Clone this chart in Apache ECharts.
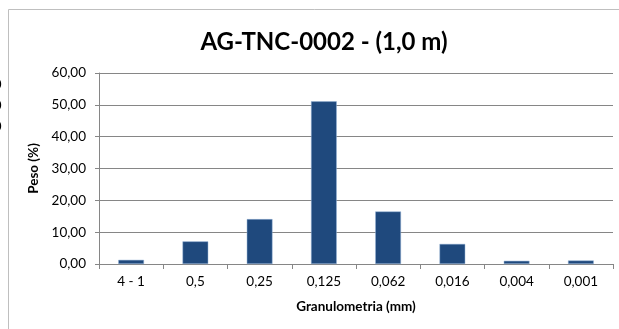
<!DOCTYPE html>
<html><head><meta charset="utf-8">
<script src="https://cdn.jsdelivr.net/npm/echarts@6/dist/echarts.min.js"></script>
<style>html,body{margin:0;padding:0;background:#fff}#c{width:619px;height:329px}</style>
</head><body><div id="c"></div>
<script>
const categories = ['4 - 1','0,5','0,25','0,125','0,062','0,016','0,004','0,001'];
const peso = [1.3, 7.1, 14.1, 51.1, 16.5, 6.3, 1.0, 1.1];
const titleText = 'AG-TNC-0002 - (1,0 m)';
const yName = 'Peso (%)';
const xName = 'Granulometria (mm)';
const ff = 'Lato, "Open Sans", sans-serif';
const chart = echarts.init(document.getElementById('c'), null, {renderer:'canvas'});
chart.setOption({
  animation:false,
  backgroundColor:'#fff',
  title:{text:titleText,left:319,top:25,textAlign:'center',textStyle:{fontFamily:ff,fontSize:24,fontWeight:'bold',color:'#000'}},
  grid:{left:99,right:6,top:73,bottom:65,containLabel:false},
  xAxis:{type:'category',data:categories,name:xName,nameLocation:'middle',nameGap:36,
    nameTextStyle:{fontFamily:ff,fontSize:13.5,fontWeight:'bold',color:'#000'},
    axisLine:{lineStyle:{color:'#868686'}},axisTick:{show:true,length:5,interval:0,lineStyle:{color:'#868686'}},
    axisLabel:{fontFamily:ff,fontSize:13.5,color:'#000',margin:11,interval:0}},
  yAxis:{type:'value',min:0,max:60,interval:10,name:yName,nameLocation:'middle',nameGap:55,
    nameTextStyle:{fontFamily:ff,fontSize:13.5,fontWeight:'bold',color:'#000'},
    axisLine:{show:true,lineStyle:{color:'#868686'}},axisTick:{show:true,length:4,lineStyle:{color:'#868686'}},
    axisLabel:{fontFamily:ff,fontSize:13.5,color:'#000',margin:13,formatter:v=>v.toFixed(2).replace('.',',')},
    splitLine:{lineStyle:{color:'#868686'}}},
  series:[{type:'bar',data:peso,barWidth:'40%',itemStyle:{color:'#1F497D',borderColor:'#95B3D7',borderWidth:0.5}}],
  graphic:[
    {type:'rect',shape:{x:8.5,y:9.5,width:800,height:600},style:{fill:'none',stroke:'#bfbfbf',lineWidth:1},silent:true},
    {type:'text',left:-6,top:78,style:{text:'0',font:'13px Lato',fill:'#000'}},
    {type:'text',left:-6,top:99,style:{text:'0',font:'13px Lato',fill:'#000'}},
    {type:'text',left:-6,top:120,style:{text:'0',font:'13px Lato',fill:'#000'}}
  ]
});
</script></body></html>
